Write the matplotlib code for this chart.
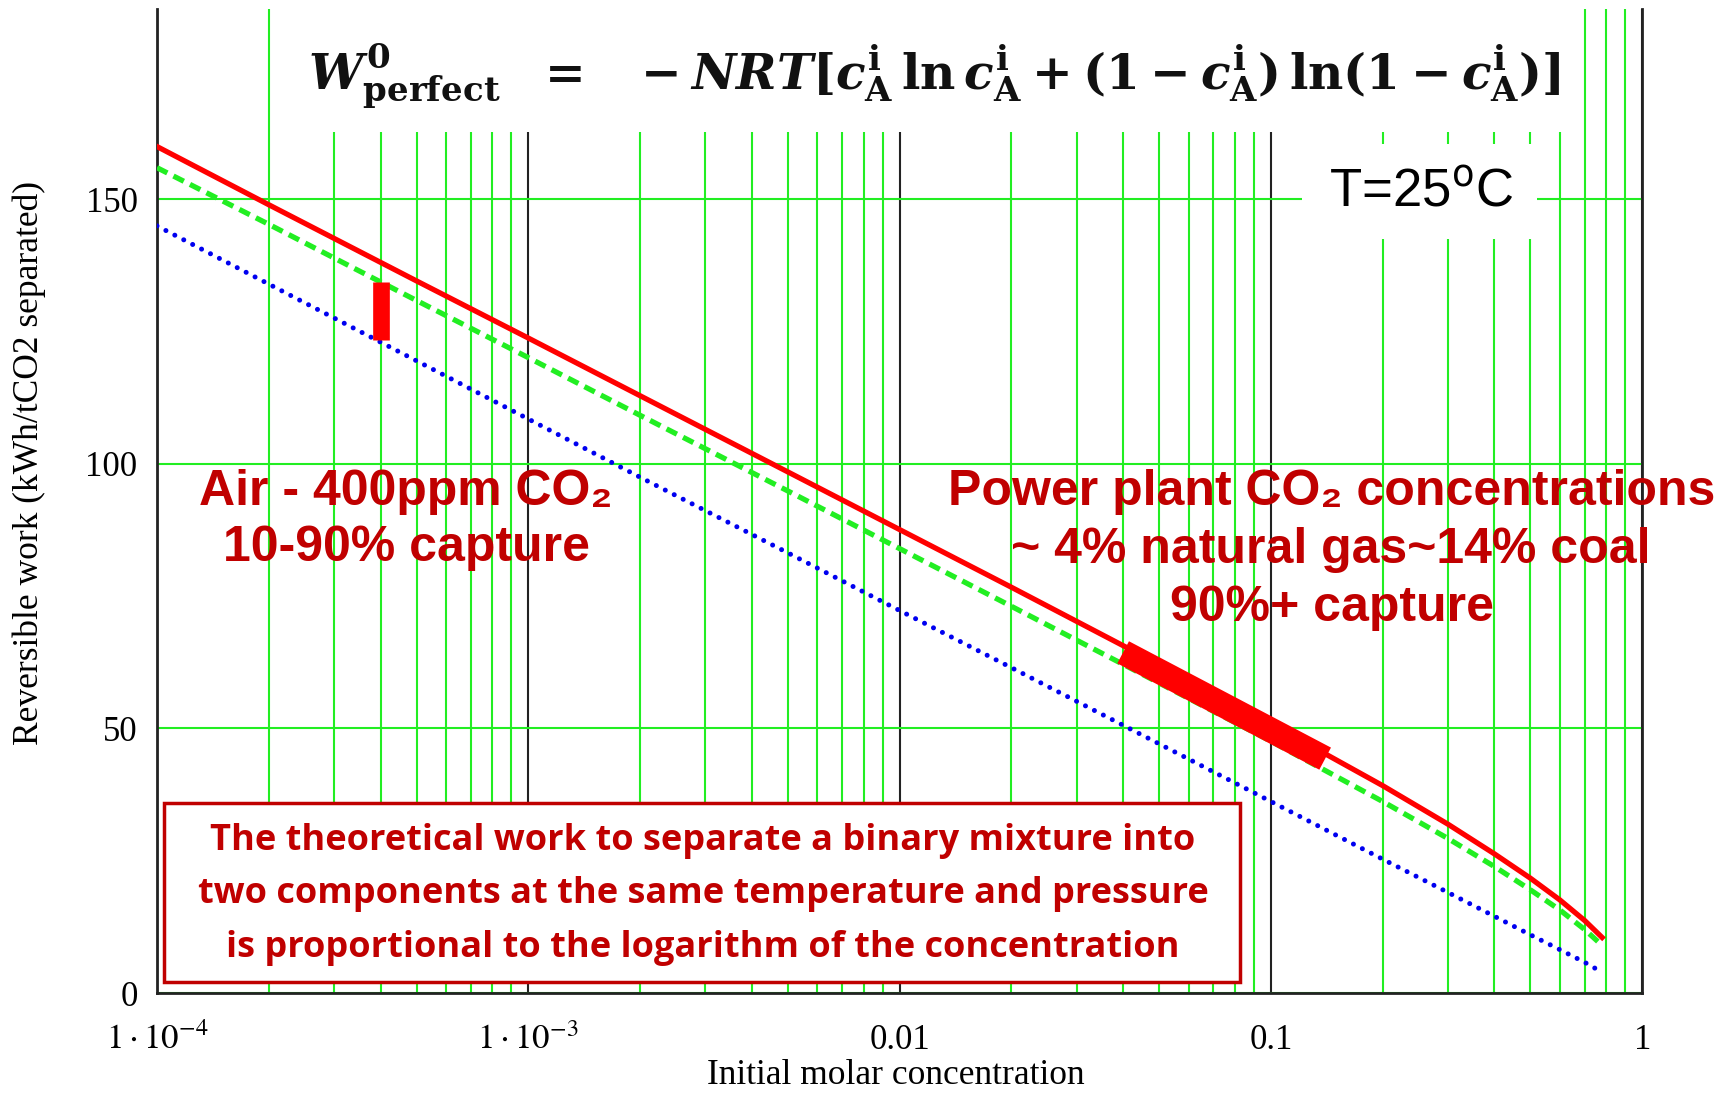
import matplotlib
matplotlib.use("Agg")
import matplotlib.pyplot as plt
from matplotlib.patches import Rectangle
from matplotlib.ticker import FixedLocator, NullFormatter

# ---------------- data ----------------
conc = [1e-4, 2e-4, 5e-4, 1e-3, 2e-3, 5e-3, 0.01, 0.02, 0.05, 0.1, 0.2, 0.3, 0.4, 0.5, 0.6, 0.7, 0.78]
work_red = [160, 149, 134.6, 123.8, 112.9, 98.5, 87.6, 76.7, 62.1, 50.9, 39.2, 31.9, 26.3, 21.7, 17.6, 13.7, 10.5]
work_green = [156, 145.3, 130.9, 120.1, 109.2, 94.9, 84.0, 73.1, 58.6, 47.6, 36.2, 29.2, 23.9, 19.5, 15.7, 12.0, 9.0]
conc_blue = [1e-4, 2e-4, 5e-4, 1e-3, 2e-3, 5e-3, 0.01, 0.02, 0.05, 0.1, 0.2, 0.3, 0.4, 0.5, 0.6, 0.7, 0.75]
work_blue = [145, 134, 119.5, 108.5, 97.5, 83.2, 72.3, 61.5, 47.1, 36.2, 25.3, 19.0, 14.5, 11.0, 8.2, 5.8, 4.6]

air_bar_x = [4e-4, 4e-4]
air_bar_y = [123.4, 134.4]
plant_bar_x = [0.04, 0.14]
plant_bar_y = [64.4, 44.3]

x_major = [1e-4, 1e-3, 1e-2, 1e-1, 1]
x_labels = [r'$1\cdot10^{-4}$', r'$1\cdot10^{-3}$', '0.01', '0.1', '1']
y_major = [0, 50, 100, 150]
y_labels = ['0', '50', '100', '150']

# ---------------- style ----------------
plt.rcParams['mathtext.fontset'] = 'custom'
plt.rcParams['mathtext.rm'] = 'DejaVu Serif:bold'
plt.rcParams['mathtext.it'] = 'DejaVu Serif:italic:bold'
plt.rcParams['mathtext.bf'] = 'DejaVu Serif:bold'

GRID_GREEN = '#22EE22'
DARK_RED = '#C00000'

fig = plt.figure(figsize=(17.25, 10.94), dpi=100)
ax = fig.add_axes([0.091, 0.0923, 0.861, 0.8995])
ax.set_xscale('log')
ax.set_xlim(1e-4, 1)
ax.set_ylim(0, 186)

# grid
minor = [m * 10.0 ** e for e in range(-4, 0) for m in range(2, 10)]
ax.xaxis.set_major_locator(FixedLocator(x_major))
ax.xaxis.set_minor_locator(FixedLocator(minor))
ax.xaxis.set_minor_formatter(NullFormatter())
ax.set_yticks(y_major)
ax.grid(which='minor', axis='x', color=GRID_GREEN, lw=1.5, zorder=0.5)
ax.grid(which='major', axis='x', color='#222222', lw=1.5, zorder=0.5)
ax.grid(which='major', axis='y', color=GRID_GREEN, lw=1.5, zorder=0.5)
ax.set_axisbelow(True)

for s in ['left', 'bottom', 'right']:
    ax.spines[s].set_color('#222222')
    ax.spines[s].set_linewidth(2)
ax.spines['top'].set_visible(False)
ax.tick_params(which='both', length=0)
ax.set_xticklabels(x_labels, fontfamily='Liberation Serif', fontsize=25)
for t in ax.get_xticklabels():
    t.set_math_fontfamily('stix')
ax.tick_params(axis='x', pad=22)
ax.set_yticklabels(y_labels, fontfamily='Liberation Serif', fontsize=25)
ax.tick_params(axis='y', pad=14)

ax.set_xlabel('Initial molar concentration', fontfamily='Liberation Serif', fontsize=25.5)
ax.xaxis.label.set_va('center')
ax.xaxis.set_label_coords(0.4975, -0.0838)
ax.set_ylabel('Reversible work (kWh/tCO2 separated)', fontfamily='Liberation Serif', fontsize=25.5)
ax.yaxis.label.set_va('center')
ax.yaxis.set_label_coords(-0.086, 0.5385)

# white boxes hiding the grid behind equation and temperature label
ax.add_patch(Rectangle((2.29e-4, 162.7), 0.655 - 2.29e-4, 30, facecolor='white', edgecolor='none', zorder=1))
ax.add_patch(Rectangle((0.121, 142.5), 0.522 - 0.121, 160.4 - 142.5, facecolor='white', edgecolor='none', zorder=1))

# curves
ax.plot(conc_blue, work_blue, color='#0000F0', lw=3.6, linestyle=(0, (0.01, 2.0)),
        dash_capstyle='round', zorder=3)
ax.plot(conc, work_green, color=GRID_GREEN, lw=3.8, linestyle=(0, (2.2, 1.3)), zorder=3)
ax.plot(conc, work_red, color='#FF0000', lw=3.8, zorder=4)

# highlighted ranges
ax.plot(air_bar_x, air_bar_y, color='#FF0000', lw=12, solid_capstyle='butt', zorder=5)
ax.plot(plant_bar_x, plant_bar_y, color='#FF0000', lw=18, solid_capstyle='butt', zorder=5)

# equation
eq = (r'$W^{0}_{\mathrm{perfect}}\ \ =\ \ -NRT[c^{\mathrm{i}}_{\mathrm{A}}\,\mathrm{ln}\,c^{\mathrm{i}}_{\mathrm{A}}'
      r' + (1 - c^{\mathrm{i}}_{\mathrm{A}})\,\mathrm{ln}(1 - c^{\mathrm{i}}_{\mathrm{A}})]$')
ax.text(0.5234, 0.932, eq, transform=ax.transAxes, ha='center', va='center',
        fontsize=35, color='#111111', zorder=6)

ax.text(0.851, 0.8134, r'T=25$^{\mathsf{o}}$C', transform=ax.transAxes, ha='center', va='center',
        fontsize=38, fontfamily='Liberation Sans', math_fontfamily='dejavusans', color='black', zorder=6)

# annotations
sans_bold = dict(fontfamily=['Liberation Sans', 'DejaVu Sans'], fontweight='bold', color=DARK_RED,
                 fontsize=36, ha='center', va='center', transform=ax.transAxes, zorder=6, clip_on=False)
ax.text(0.1675, 0.5095, 'Air - 400ppm CO\u2082', **sans_bold)
ax.text(0.168, 0.4525, '10-90% capture', **sans_bold)
ax.text(0.791, 0.5095, 'Power plant CO\u2082 concentrations', **sans_bold)
ax.text(0.7906, 0.4503, '~ 4% natural gas~14% coal', **sans_bold)
ax.text(0.791, 0.391, '90%+ capture', **sans_bold)

# explanatory box
ax.add_patch(Rectangle((0.00445, 0.0112), 0.7294 - 0.00445, 0.1933 - 0.0112, transform=ax.transAxes,
                       facecolor='white', edgecolor=DARK_RED, lw=2.5, zorder=5))
box_kw = dict(fontfamily='Open Sans', fontweight='bold', color=DARK_RED, fontsize=26,
              ha='center', va='center', transform=ax.transAxes, zorder=6)
ax.text(0.3677, 0.154, 'The theoretical work to separate a binary mixture into', **box_kw)
ax.text(0.3677, 0.1006, 'two components at the same temperature and pressure', **box_kw)
ax.text(0.3677, 0.0458, 'is proportional to the logarithm of the concentration', **box_kw)

fig.savefig('out.png', dpi=100, facecolor='white')
